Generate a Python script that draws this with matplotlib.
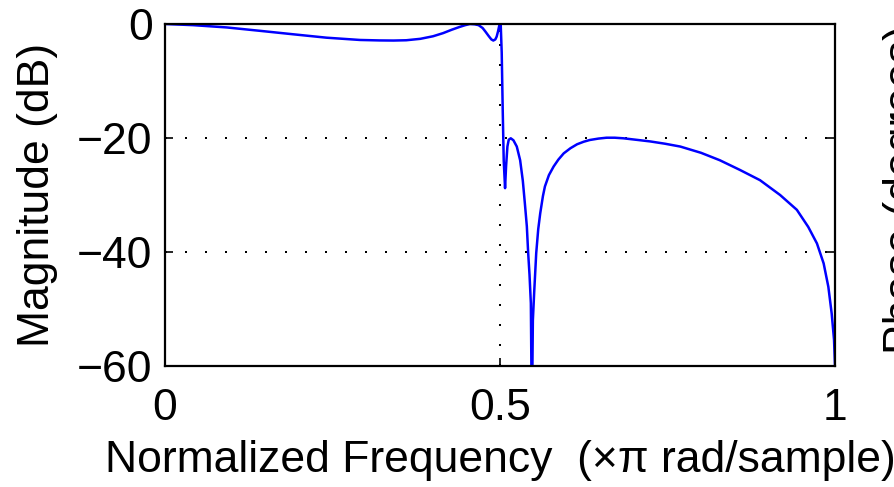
import matplotlib
matplotlib.use("Agg")
import matplotlib.pyplot as plt

# magnitude response (normalized freq, dB)
freq = [0.0, 0.042, 0.092, 0.142, 0.191, 0.241, 0.291, 0.320, 0.341, 0.360,
        0.381, 0.400, 0.415, 0.428, 0.440, 0.448, 0.455, 0.462, 0.468,
        0.474, 0.478, 0.483, 0.487, 0.490, 0.493, 0.495, 0.497, 0.499,
        0.501, 0.5025, 0.504, 0.5055, 0.5075, 0.509, 0.511, 0.513, 0.516,
        0.520, 0.525, 0.530, 0.534, 0.537, 0.540, 0.542, 0.544, 0.546,
        0.5475, 0.549, 0.551, 0.554, 0.557, 0.560, 0.564, 0.567, 0.573,
        0.580, 0.587, 0.595, 0.605, 0.615, 0.625, 0.634, 0.647, 0.659,
        0.671, 0.684, 0.706, 0.724, 0.746, 0.769, 0.800, 0.828, 0.858,
        0.888, 0.918, 0.943, 0.960, 0.973, 0.983, 0.990, 0.995, 0.9985, 1.0]
mag_db = [0.0, -0.2, -0.6, -1.2, -1.8, -2.4, -2.8, -2.88, -2.9, -2.85,
          -2.6, -2.15, -1.6, -1.0, -0.5, -0.2, 0.0, -0.05, -0.2,
          -0.7, -1.3, -2.1, -2.7, -2.9, -2.7, -2.2, -1.3, -0.2,
          0.0, -5.0, -15.0, -24.0, -28.8, -25.0, -21.5, -20.3, -20.05,
          -20.4, -21.5, -23.9, -27.5, -31.4, -35.5, -40.2, -44.0, -49.0,
          -70.0, -52.0, -47.0, -40.2, -36.0, -33.2, -30.2, -28.5, -26.5,
          -25.0, -23.8, -22.7, -21.8, -21.1, -20.65, -20.35, -20.1, -19.95,
          -19.95, -20.05, -20.35, -20.6, -21.0, -21.5, -22.6, -23.9, -25.6,
          -27.4, -30.0, -32.6, -35.6, -38.5, -42.0, -46.1, -50.8, -55.4, -60.1]

x_ticks = [0, 0.5, 1]
x_tick_labels = ["0", "0.5", "1"]
y_ticks = [-60, -40, -20, 0]

plt.rcParams["font.family"] = ["Liberation Sans", "DejaVu Sans"]

fig = plt.figure(figsize=(8.95, 4.87), dpi=100)
ax = fig.add_axes([0.1844, 0.2485, 0.7486, 0.7022])

ax.plot(freq, mag_db, color=(0, 0, 1), linewidth=1.8, solid_joinstyle="round")

ax.set_xlim(0, 1)
ax.set_ylim(-60, 0)
ax.set_xticks(x_ticks)
ax.set_xticklabels(x_tick_labels)
ax.set_yticks(y_ticks)

ax.grid(True, color="black", linestyle=(0, (1, 9)), linewidth=1.44)
ax.tick_params(direction="in", length=6, width=1.2, labelsize=32,
               top=True, right=True)
ax.tick_params(axis="x", pad=16)
ax.tick_params(axis="y", pad=9)
for sp in ax.spines.values():
    sp.set_linewidth(1.6)

ax.set_xlabel("Normalized Frequency  (\u00d7\u03c0 rad/sample)", fontsize=32, labelpad=8)
ax.set_ylabel("Magnitude (dB)", fontsize=32, labelpad=14)

# clipped label of the neighbouring phase plot
fig.text(0.987, 0.61, "Phase (degrees)", rotation=90, fontsize=32,
         ha="left", va="center")

fig.savefig("out.png", dpi=100)
